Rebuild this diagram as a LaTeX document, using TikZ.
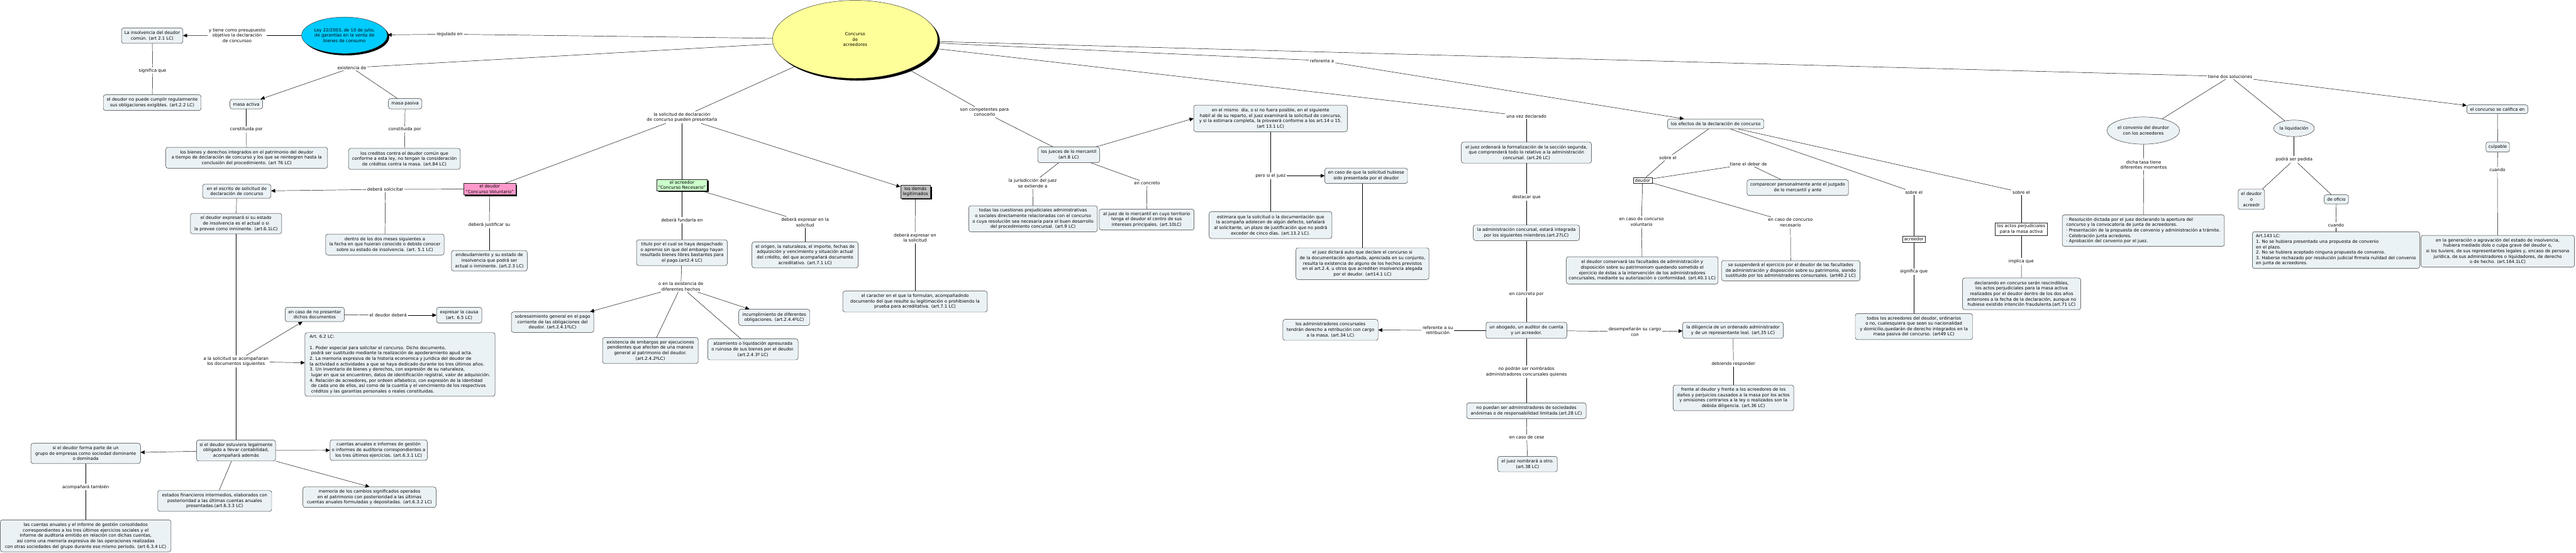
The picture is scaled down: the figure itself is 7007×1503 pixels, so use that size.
\documentclass[tikz,border=0pt]{standalone}
\usepackage{fontspec}
\setmainfont{DejaVu Sans}
\usetikzlibrary{shapes.geometric,arrows.meta,shadows}
\definecolor{boxfill}{RGB}{235,242,245}
\definecolor{cyanfill}{RGB}{0,204,255}
\definecolor{yelfill}{RGB}{255,255,153}
\definecolor{pinkfill}{RGB}{255,153,204}
\definecolor{greenfill}{RGB}{204,255,204}
\definecolor{greyfill}{RGB}{192,192,192}
\definecolor{edgecol}{RGB}{40,40,40}
\tikzset{
  every node/.style={font=\fontsize{11.8}{14.8}\selectfont, inner sep=0pt},
  wh/.style 2 args={minimum width=#1pt, minimum height=#2pt},
  cbox/.style={draw=edgecol, line width=0.8pt, fill=boxfill, rounded corners=6pt, align=center, inner xsep=5pt, inner ysep=4pt},
  lbox/.style={cbox, align=left},
  sqbox/.style={draw=edgecol, line width=0.8pt, fill=white, align=center, inner xsep=3pt, inner ysep=2pt},
  colbox/.style={draw=edgecol, line width=0.8pt, align=center, inner xsep=4pt, inner ysep=2pt, drop shadow={shadow xshift=4pt, shadow yshift=-4pt, fill=black, opacity=1}},
  ellbox/.style={ellipse, draw=edgecol, line width=0.8pt, fill=boxfill, align=center},
  lbl/.style={fill=white, align=center, inner xsep=3pt, inner ysep=3pt},
  conn/.style={draw=black, line width=0.8pt},
  arr/.style={conn, -{Triangle[length=11pt,width=10pt]}},
}
\begin{document}
\begin{tikzpicture}[x=1pt,y=-1pt]
\useasboundingbox (0,0) rectangle (7007,1503);
\fill[white] (0,0) rectangle (7007,1503);

% ---------- main concepts ----------
\node[ellipse, draw=edgecol, line width=0.8pt, fill=yelfill, wh={449}{212}, align=center, drop shadow={shadow xshift=6pt, shadow yshift=-6pt, fill=black, opacity=1}] (conc) at (2326,107) {Concurso\\de\\acreedores};
\node[ellipse, draw=edgecol, line width=0.8pt, fill=cyanfill, wh={208}{99}, align=center, drop shadow={shadow xshift=5pt, shadow yshift=-5pt, fill=black, opacity=1}] (ley) at (937,96) {Ley 22/2003, de 10 de julio,\\de garantías en la venta de\\bienes de consumo};

% ---------- boxes ----------
\node[cbox, wh={167}{42}] (insolv) at (414,97) {La insolvencia del deudor\\común. (art 2.1 LC)};
\node[cbox, wh={266}{43}] (nopuede) at (414,279) {el deudor no puede cumplir regularmente\\sus obligaciones exigibles. (art.2.2 LC)};
\node[cbox, wh={89}{26}] (masaact) at (670,283) {masa activa};
\node[cbox, wh={91}{28}] (masapas) at (1102,282) {masa pasiva};
\node[cbox, wh={440}{57}] (bienes) at (671,429) {los bienes y derechos integrados en el patrimonio del deudor\\a tiempo de declaración de concurso y los que se reintegren hasta la\\conclusión del procedimiento. (art 76 LC)};
\node[cbox, wh={304}{57}] (creditos) at (1100,432) {los creditos contra el deudor común que\\conforme a esta ley, no tengan la consideración\\de créditos contra la masa. (art.84 LC)};
\node[cbox, wh={186}{38}] (escrito) at (644,520) {en el escrito de solicitud de\\declaración de concurso};
\node[cbox, wh={248}{56}] (expresara) at (642,608) {el deudor expresará si su estado\\de insolvencia es el actual o si\\la prevee como inminente. (art.6.1LC)};
\node[cbox, wh={322}{57}] (dosmeses) at (1047,665) {dentro de los dos meses siguientes a\\la fecha en que huieran conocido o debido conocer\\sobre su estado de insolvencia. (art. 5.1 LC)};
\node[colbox, fill=pinkfill, wh={142}{31}] (pink) at (1332,514) {el deudor\\"Concurso Voluntario"};
\node[colbox, fill=greenfill, wh={136}{31}] (green) at (1855,503) {el acreedor\\"Concurso Necesario"};
\node[cbox, wh={206}{56}] (endeud) at (1331,709) {endeudamiento y su estado de\\insolvencia que podrá ser\\actual o inminente. (art.2.3 LC)};
\node[cbox, wh={247}{70}] (titulo) at (1855,687) {titulo por el cual se haya despachado\\o apremio sin que del embargo hayan\\resultado bienes libres bastantes para\\el pago.(art2.4 LC)};
\node[cbox, wh={289}{71}] (origen) at (2190,693) {el origen, la naturaleza, el importe, fechas de\\adquisición y vencimiento y situación actual\\del crédito, del que acompañará documento\\acreditativo. (art.7.1 LC)};
\node[colbox, fill=greyfill, wh={81}{35}] (legit) at (2490,521) {los demás\\legitimados};
\node[cbox, wh={393}{57}] (caracter) at (2489,820) {el caracter en el que la formulan, acompañadndo\\documento del que resulte su legitimación o prohibiendo la\\prueba para acreditativa. (art.7.1 LC)};
\node[cbox, wh={168}{43}] (jueces) at (2907,421) {los jueces de lo mercantil\\(art.8 LC)};
\node[cbox, wh={350}{71}] (todas) at (2810,595) {todas las cuestiones prejudiciales administrativas\\o sociales directamente relacionadas con el concurso\\o cuya resolución sea necesaria para el buen desarrollo\\del procedimiento concursal. (art.9 LC)};
\node[cbox, wh={258}{57}] (aljuez) at (3119,597) {al juez de lo mercantil en cuyo territorio\\tenga el deudor el centro de sus\\intereses principales. (art.10LC)};
\node[cbox, wh={418}{72}] (mismodia) at (3456,322) {en el mismo\ \ dia, o si no fuera posible, en el siguiente\\habil al de su reparto, el juez examinará la solicitud de concurso,\\y si la estimara completa, la proveerá conforme a los art.14 o 15.\\(art 13.1 LC)};
\node[cbox, wh={334}{73}] (estimara) at (3456,612) {estimara que la solicitud o la documentación que\\la acompaña adolecen de algún defecto, señalará\\al solicitante, un plazo de justificación que no podrá\\exceder de cinco días. (art.13.2 LC).};
\node[cbox, wh={225}{42}] (encasosol) at (3716,478) {en caso de que la solicitud hubiese\\sido presentada por el deudor};
\node[cbox, wh={362}{86}] (dictara) at (3706,717) {el juez dictará auto que declare el concurso si\\de la documentación aportada, apreciada en su conjunto,\\resulta la existencia de alguno de los hechos previstos\\en el art.2.4, u otros que acrediten insolvencia alegada\\por el deudor. (art14.1 LC)};
\node[cbox, wh={354}{57}] (ordenara) at (4152,415) {el juez ordenará la formalización de la sección segunda,\\que comprenderá todo lo relativo a la administración\\concursal. (art.26 LC)};
\node[cbox, wh={289}{42}] (admcon) at (4152,633) {la administración concursal, estará integrada\\por los siguientes miembros.(art.27LC)};
\node[cbox, wh={220}{44}] (abogado) at (4152,898) {un abogado, un auditor de cuenta\\y un acreedor.};
\node[cbox, wh={259}{57}] (retrib) at (3619,897) {los administradores concursales\\tendrán derecho a retribución con cargo\\a la masa. (art.34 LC)};
\node[cbox, wh={274}{44}] (diligencia) at (4714,898) {la diligencia de un ordenado administrador\\y de un representante leal. (art.35 LC)};
\node[cbox, wh={328}{70}] (frente) at (4715,1082) {frente al deudor y frente a los acreedores de los\\daños y perjuicios causados a la masa por los actos\\y omisiones contrarios a la ley o realizados son la\\debida diligencia. (art.36 LC)};
\node[cbox, wh={325}{43}] (nopuedan) at (4152,1117) {no puedan ser administradores de sociedades\\anónimas o de responsabilidad limitada.(art.28 LC)};
\node[cbox, wh={162}{42}] (nombrara) at (4155,1262) {el juez nombrará a otro.\\(art.38 LC)};
\node[cbox, wh={262}{27}] (efectos) at (4667,337) {los efectos de la declaración de concurso};
\node[sqbox, wh={51}{16}] (deudorsq) at (4468,490) {deudor};
\node[cbox, wh={276}{43}] (comparecer) at (4890,510) {comparecer personalmente ante el juzgado\\de lo mercantil y ante};
\node[cbox, wh={377}{55}] (suspendera) at (4871,736) {se suspenderá el ejercicio por el deudor de las facultades\\de administración y disposición sobre su patrimonio, siendo\\sustituido por los administradores consursales. (art40.2 LC)};
\node[cbox, wh={413}{74}] (conservara) at (4467,735) {el deudor conservará las facultades de administración y\\disposición sobre su patrimoniom quedando sometido el\\ejercicio de éstas a la intervención de los administradores\\concursales, mediante su autorización o conformidad. (art.40.1 LC)};
\node[sqbox, wh={61}{17}] (acreedorsq) at (5206,650) {acreedor};
\node[cbox, wh={319}{71}] (todosacr) at (5206,888) {todos los acreedores del deudor, ordinarios\\o no, cualesquiera que sean su nacionalidad\\y domicilio,quedarán de derecho integrados en la\\masa pasiva del concurso. (art49 LC)};
\node[sqbox, wh={141}{35}] (actos) at (5498,623) {los actos perjudiciales\\para la masa activa};
\node[cbox, wh={322}{86}] (rescind) at (5499,799) {declarando en concurso serán rescindibles,\\los actos perjudiciales para la masa activa\\realizados por el deudor dentro de los dos años\\anteriores a la fecha de la declaración, aunque no\\hubiese existido intención fraudulenta.(art.71 LC)};
\node[ellbox, wh={171}{74}] (convenio) at (5830,355) {el convenio del deurdor\\con los acreedores};
\node[lbox, wh={441}{86}] (momentos) at (5830,627) {· Resolución dictada por el juez declarando la apertura del\\concurso y la convocatoria de junta de acreedores.\\· Presentación de la propuesta de convenio y administración a trámite.\\· Celebración junta acredores.\\· Aprobación del convenio por el juez.};
\node[ellbox, wh={97}{45}] (liquid) at (6240,349) {la liquidación};
\node[cbox, wh={72}{55}] (deudoroacr) at (6124,542) {el deudor\\o\\acreedr};
\node[cbox, wh={66}{25}] (deoficio) at (6355,542) {de oficio};
\node[lbox, wh={455}{100}] (art143) at (6354,680) {Art.143 LC:\\1. No se hubiera presentado una propuesta de convenio\\en el plazo.\\2. No se hubiera aceptado ninguna propuesta de convenio.\\3. Haberse rechazado por resolución judicial firmela nulidad del convenio\\en junta de acreedores.};
\node[cbox, wh={166}{24}] (califica) at (6793,297) {el concurso se califica en};
\node[cbox, wh={64}{27}] (culpable) at (6794,400) {culpable};
\node[cbox, wh={418}{86}] (generacion) at (6794,683) {en la generación o agravación del estado de insolvencia,\\hubiera mediado dolo o culpa grave del deudor o,\\si los tuviere, de sus representantes legales y, encaso de persona\\jurídica, de sus administradores o liquidadores, de derecho\\o de hecho. (art.164.1LC)};
\node[cbox, wh={161}{39}] (nopresentar) at (856,855) {en caso de no presentar\\dichos documentos};
\node[cbox, wh={123}{43}] (causa) at (1249,857) {expresar la causa\\(art. 6.5 LC)};
\node[lbox, wh={517}{173}, inner xsep=4pt] (art62) at (1088,991) {Art. 6.2 LC:\\[14.8pt]1. Poder especial para solicitar el concurso. Dicho documento,\\\hspace*{4pt}podrá ser sustituido mediante la realización de apoderamiento apud acta.\\2. La memoria expresiva de la historia economica y juridica del deudor de\\la actividad o actividades a que se haya dedicado durante los tres últimos años.\\3. Un inventario de bienes y derechos, con expresión de su naturaleza,\\\hspace*{4pt}lugar en que se encuentren, datos de identificación registral, valor de adquisición.\\4. Relación de acreedores, por ordeen alfabetico, con expresión de la identidad\\\hspace*{4pt}de cada uno de ellos, así como de la cuantía y el vencimiento de los respectivos\\\hspace*{4pt}créditos y las garantias personales o reales constituidas.};
\node[cbox, wh={215}{57}] (estuviera) at (642,1225) {si el deudor estuviera legalmente\\obligado a llevar contabilidad,\\acompañará además};
\node[cbox, wh={298}{55}] (formaparte) at (233,1233) {si el deudor forma parte de un\\grupo de empresas como sociedad dominante\\o dominada};
\node[cbox, wh={464}{87}] (consol) at (233,1457) {las cuentas anuales y el informe de gestión consolidados\\correspondientes a los tres últimos ejercicios sociales y el\\informe de auditoria emitido en relación con dichas cuentas,\\asi como una memoria expresiva de las operaciones realizadas\\con otras sociedades del grupo durante ese mismo periodo. (art 6.3.4 LC)};
\node[cbox, wh={264}{56}] (cuentasan) at (1030,1224) {cuentas anuales e informes de gestión\\o informes de auditoria correspondientes a\\los tres últimos ejercicios. (art.6.3.1 LC)};
\node[cbox, wh={362}{56}] (memoria) at (1005,1352) {memoria de los cambios significados operados\\en el patrimonio con posterioridad a las últimas\\cuentas anuales formuladas y depositadas. (art.6.3.2 LC)};
\node[cbox, wh={310}{57}] (estados) at (584,1362) {estados financieros intermedios, elaborados con\\posterioridad a las últimas cuentas anuales\\presentadas.(art.6.3.3 LC)};
\node[cbox, wh={224}{56}] (sobresei) at (1503,876) {sobreseimiento general en el pago\\corriente de las obligaciones del\\deudor. (art.2.4.1ºLC)};
\node[cbox, wh={260}{71}] (embargos) at (1769,953) {existencia de embargos por ejecuciones\\pendientes que afecten de una manera\\general al patrimonio del deudor.\\(art.2.4.2ºLC)};
\node[cbox, wh={246}{57}] (alzam) at (2048,950) {alzamiento o liquidación apresurada\\o ruinosa de sus bienes por el deudor.\\(art.2.4.3º LC)};
\node[cbox, wh={193}{44}] (incumpl) at (2106,863) {incumplimiento de diferentes\\obligaciones. (art.2.4.4ºLC)};

% ---------- linking phrases ----------
\node[lbl] (lRegulado) at (1223,93) {regulado en};
\node[lbl] (lPresup) at (645,96) {y tiene como presupuesto\\objetivo la declaración\\de concursoo};
\node[lbl] (lSignif) at (415,192) {significa que};
\node[lbl] (lExist) at (957,184) {existencia de};
\node[lbl] (lConstA) at (670,352) {constituida por};
\node[lbl] (lConstP) at (1101,352) {constituida por};
\node[lbl] (lSolic) at (1855,319) {la solicitud de declaración\\de concurso pueden presentarla};
\node[lbl] (lSolcic) at (1048,515) {deberá solcicitar};
\node[lbl] (lJustif) at (1331,611) {deberá justificar su};
\node[lbl] (lAcomp) at (642,983) {a la solicitud se acompañaran\\los documentos siguientes};
\node[lbl] (lDebera) at (1056,857) {el deudor deberá};
\node[lbl] (lTambien) at (233,1324) {acompañará también};
\node[lbl] (lFundar) at (1855,599) {deberá fundarla en};
\node[lbl] (lExpr1) at (2190,604) {deberá expresar en la\\solicitud};
\node[lbl] (lHechos) at (1852,779) {o en la existencia de\\diferentes hechos};
\node[lbl] (lExpr2) at (2489,646) {deberá expresar en\\la solicitud};
\node[lbl] (lCompet) at (2678,305) {son competentes para\\conocerlo};
\node[lbl] (lJuris) at (2809,498) {la jurisdicción del juez\\se extiende a};
\node[lbl] (lConcreto) at (3120,498) {en concreto};
\node[lbl] (lPeroSi) at (3456,478) {pero si el juez};
\node[lbl] (lReferente) at (3596,165) {referente a};
\node[lbl] (lUnaVez) at (4152,316) {una vez declarado};
\node[lbl] (lDestacar) at (4152,536) {destacar que};
\node[lbl] (lConcretoPor) at (4152,801) {en concreto por};
\node[lbl] (lRetrib) at (3911,898) {referente a su\\retribución};
\node[lbl] (lDesemp) at (4447,902) {desempeñarán su cargo\\con};
\node[lbl] (lDebiendo) at (4715,989) {debiendo responder};
\node[lbl] (lNoPodran) at (4152,1011) {no podrán ser nombrados\\administradores concursales quienes};
\node[lbl] (lCese) at (4153,1189) {en caso de cese};
\node[lbl] (lSobre1) at (4537,429) {sobre el};
\node[lbl] (lDeber) at (4756,446) {tiene el deber de};
\node[lbl] (lNecesario) at (4870,605) {en caso de concurso\\necesario};
\node[lbl] (lVoluntario) at (4465,603) {en caso de concurso\\voluntario};
\node[lbl] (lSobre2) at (5206,523) {sobre el};
\node[lbl] (lSignif2) at (5206,739) {significa que};
\node[lbl] (lSobre3) at (5498,523) {sobre el};
\node[lbl] (lImplica) at (5498,711) {implica que};
\node[lbl] (lDosSol) at (6066,208) {tiene dos soluciones};
\node[lbl] (lTasa) at (5831,448) {dicha tasa tiene\\diferentes momentos};
\node[lbl] (lPedida) at (6240,434) {podrá ser pedida};
\node[lbl] (lCuando1) at (6354,612) {cuando};
\node[lbl] (lCuando2) at (6793,462) {cuando};

% ---------- connectors ----------
\draw[conn] (conc) -- (lRegulado);
\draw[arr] (lRegulado) -- (ley);
\draw[conn] (ley) -- (lPresup);
\draw[arr] (lPresup) -- (insolv);
\draw[conn] (insolv) -- (lSignif);
\draw[conn] (lSignif) -- (nopuede);
\draw[conn] (conc) -- (lExist);
\draw[arr] (lExist) -- (masaact);
\draw[conn] (lExist) -- (masapas);
\draw[conn] (masaact) -- (lConstA);
\draw[conn] (lConstA) -- (bienes);
\draw[conn] (masapas) -- (lConstP);
\draw[conn] (lConstP) -- (creditos);
\draw[conn] (conc) -- (lSolic);
\draw[conn] (lSolic) -- (pink);
\draw[conn] (lSolic) -- (green);
\draw[arr] (lSolic) -- (legit);
\draw[conn] (pink) -- (lSolcic);
\draw[arr] (lSolcic) -- (escrito);
\draw[conn] (lSolcic) -- (dosmeses);
\draw[conn] (pink) -- (lJustif);
\draw[conn] (lJustif) -- (endeud);
\draw[conn] (escrito) -- (expresara);
\draw[conn] (expresara) -- (lAcomp);
\draw[conn] (lAcomp) -- (estuviera);
\draw[arr] (lAcomp) -- (nopresentar);
\draw[arr] (lAcomp) -- (art62);
\draw[conn] (nopresentar) -- (lDebera);
\draw[arr] (lDebera) -- (causa);
\draw[arr] (estuviera) -- (formaparte);
\draw[arr] (estuviera) -- (cuentasan);
\draw[arr] (estuviera.south east) -- (memoria.north);
\draw[conn] (estuviera) -- (estados);
\draw[conn] (formaparte) -- (lTambien);
\draw[conn] (lTambien) -- (consol);
\draw[conn] (green) -- (lFundar);
\draw[conn] (lFundar) -- (titulo);
\draw[conn] (green) -- (lExpr1);
\draw[conn] (lExpr1) -- (origen);
\draw[conn] (titulo) -- (lHechos);
\draw[arr] (lHechos) -- (sobresei);
\draw[conn] (lHechos) -- (embargos);
\draw[conn] (lHechos) -- (alzam);
\draw[arr] (lHechos) -- (incumpl);
\draw[conn] (legit) -- (lExpr2);
\draw[conn] (lExpr2) -- (caracter);
\draw[conn] (conc) -- (lCompet);
\draw[conn] (lCompet) -- (jueces);
\draw[arr] (jueces) -- (mismodia.west);
\draw[conn] (jueces) -- (lJuris);
\draw[conn] (lJuris) -- (todas);
\draw[conn] (jueces) -- (lConcreto);
\draw[conn] (lConcreto) -- (aljuez);
\draw[conn] (mismodia) -- (lPeroSi);
\draw[conn] (lPeroSi) -- (estimara);
\draw[arr] (lPeroSi) -- (encasosol);
\draw[conn] (dictara.north |- encasosol.south) -- (dictara.north);
\draw[conn] (conc) -- (lUnaVez);
\draw[conn] (lUnaVez) -- (ordenara);
\draw[conn] (ordenara) -- (lDestacar);
\draw[conn] (lDestacar) -- (admcon);
\draw[conn] (admcon) -- (lConcretoPor);
\draw[conn] (lConcretoPor) -- (abogado);
\draw[conn] (abogado) -- (lRetrib);
\draw[arr] (lRetrib) -- (retrib);
\draw[conn] (abogado) -- (lDesemp);
\draw[arr] (lDesemp) -- (diligencia);
\draw[conn] (diligencia) -- (lDebiendo);
\draw[conn] (lDebiendo) -- (frente);
\draw[conn] (abogado) -- (lNoPodran);
\draw[conn] (lNoPodran) -- (nopuedan);
\draw[conn] (nopuedan) -- (lCese);
\draw[conn] (lCese) -- (nombrara);
\draw[conn] (conc) -- (lReferente);
\draw[arr] (lReferente) -- (efectos);
\draw[conn] (efectos) -- (lSobre1);
\draw[conn] (lSobre1) -- (deudorsq);
\draw[conn] (deudorsq) -- (lDeber);
\draw[conn] (lDeber) -- (comparecer);
\draw[conn] (deudorsq) -- (lNecesario);
\draw[conn] (lNecesario) -- (suspendera);
\draw[conn] (deudorsq) -- (lVoluntario);
\draw[conn] (lVoluntario) -- (conservara);
\draw[conn] (efectos) -- (lSobre2);
\draw[conn] (lSobre2) -- (acreedorsq);
\draw[conn] (acreedorsq) -- (lSignif2);
\draw[conn] (lSignif2) -- (todosacr);
\draw[conn] (efectos) -- (lSobre3);
\draw[conn] (lSobre3) -- (actos);
\draw[conn] (actos) -- (lImplica);
\draw[conn] (lImplica) -- (rescind);
\draw[conn] (conc) -- (lDosSol);
\draw[conn] (lDosSol) -- (convenio);
\draw[conn] (lDosSol) -- (liquid);
\draw[arr] (lDosSol) -- (califica);
\draw[conn] (convenio) -- (lTasa);
\draw[conn] (lTasa) -- (momentos);
\draw[conn] (liquid) -- (lPedida);
\draw[conn] (lPedida) -- (deudoroacr);
\draw[conn] (lPedida) -- (deoficio);
\draw[conn] (deoficio) -- (lCuando1);
\draw[conn] (lCuando1) -- (art143);
\draw[conn] (califica) -- (culpable);
\draw[conn] (culpable) -- (lCuando2);
\draw[conn] (lCuando2) -- (generacion);
\end{tikzpicture}
\end{document}
